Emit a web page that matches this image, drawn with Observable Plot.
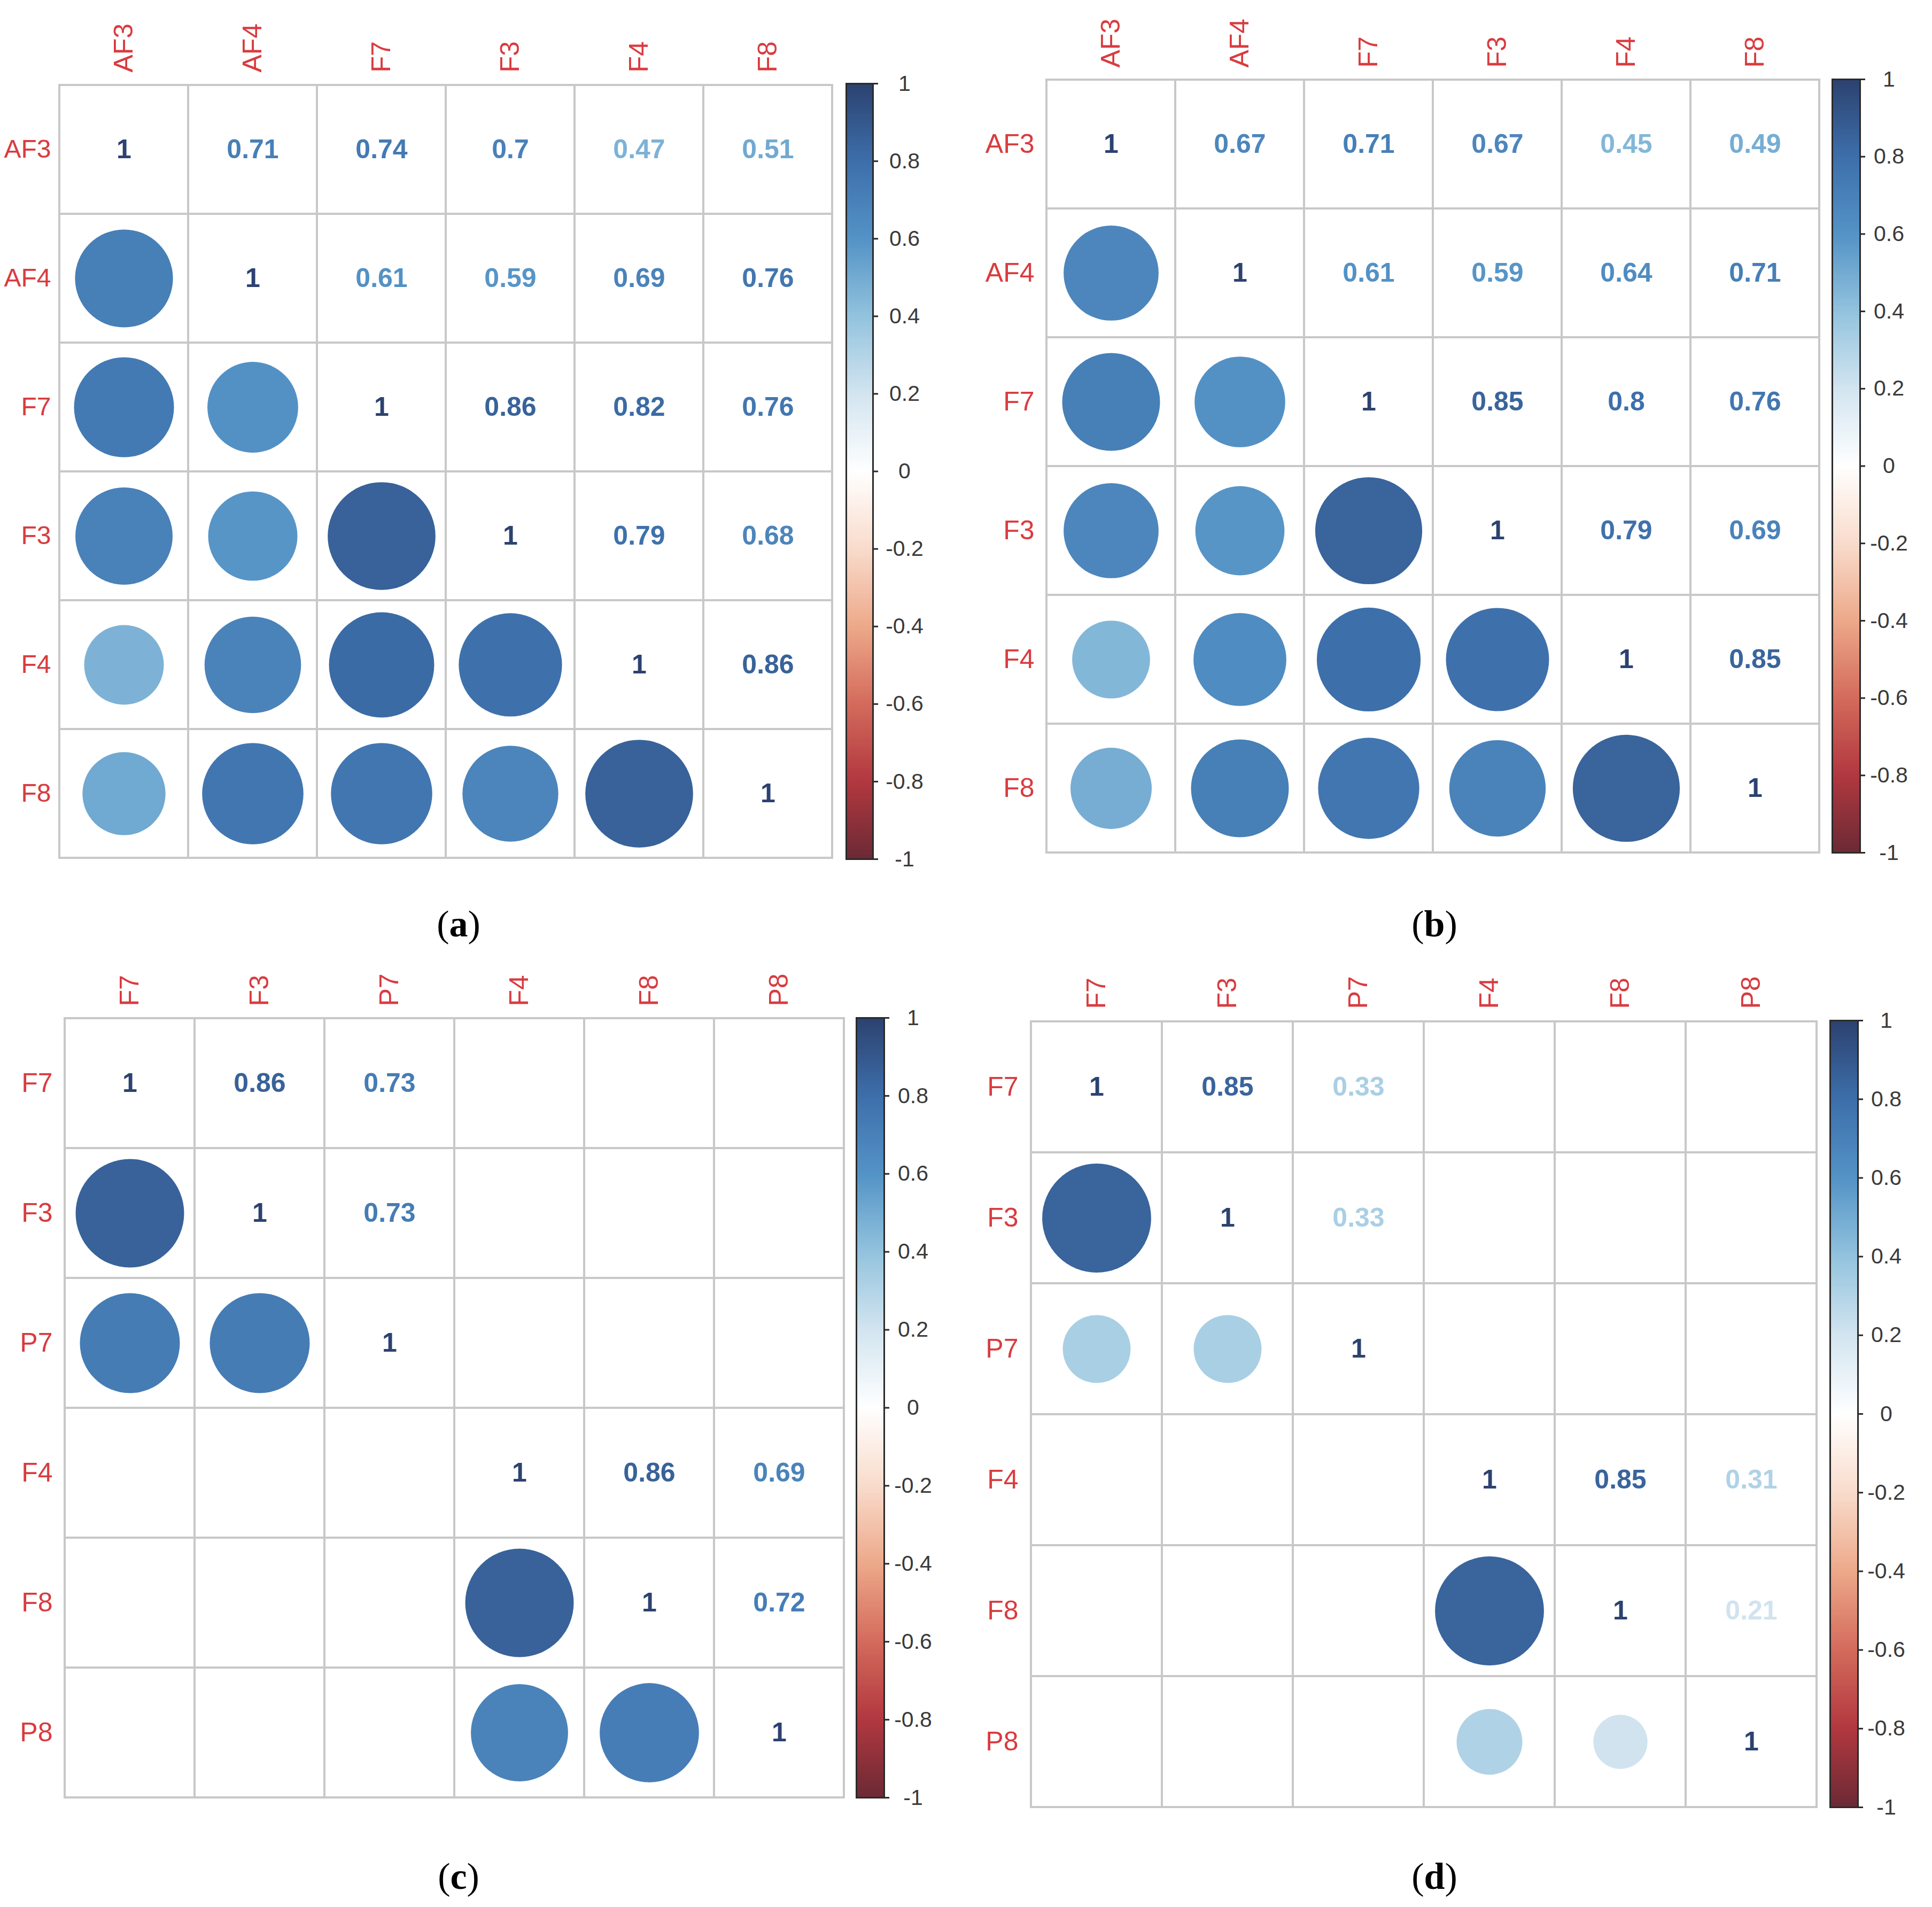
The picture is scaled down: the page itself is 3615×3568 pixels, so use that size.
<!DOCTYPE html>
<html>
<head>
<meta charset="utf-8">
<script src="https://cdn.jsdelivr.net/npm/d3@7"></script>
<script src="https://cdn.jsdelivr.net/npm/@observablehq/plot@0.6"></script>
<style>
  html, body { margin: 0; padding: 0; background: #ffffff; }
  #page { position: relative; width: 3615px; height: 3568px; overflow: hidden; background: #ffffff; }
  .abs { position: absolute; }
  .cap { position: absolute; width: 400px; text-align: center; font-family: "Liberation Serif", "Times New Roman", serif; font-size: 70px; line-height: 80px; color: #000; }
  .cap b { font-weight: bold; }
</style>
</head>
<body>
<div id="page"></div>
<script>
// ---------------- data ----------------
const varsA = ["AF3", "AF4", "F7", "F3", "F4", "F8"];
const corrA = [
  [1,    0.71, 0.74, 0.70, 0.47, 0.51],
  [0.71, 1,    0.61, 0.59, 0.69, 0.76],
  [0.74, 0.61, 1,    0.86, 0.82, 0.76],
  [0.70, 0.59, 0.86, 1,    0.79, 0.68],
  [0.47, 0.69, 0.82, 0.79, 1,    0.86],
  [0.51, 0.76, 0.76, 0.68, 0.86, 1]
];

const varsB = ["AF3", "AF4", "F7", "F3", "F4", "F8"];
const corrB = [
  [1,    0.67, 0.71, 0.67, 0.45, 0.49],
  [0.67, 1,    0.61, 0.59, 0.64, 0.71],
  [0.71, 0.61, 1,    0.85, 0.80, 0.76],
  [0.67, 0.59, 0.85, 1,    0.79, 0.69],
  [0.45, 0.64, 0.80, 0.79, 1,    0.85],
  [0.49, 0.71, 0.76, 0.69, 0.85, 1]
];

const varsC = ["F7", "F3", "P7", "F4", "F8", "P8"];
const corrC = [
  [1,    0.86, 0.73, null, null, null],
  [0.86, 1,    0.73, null, null, null],
  [0.73, 0.73, 1,    null, null, null],
  [null, null, null, 1,    0.86, 0.69],
  [null, null, null, 0.86, 1,    0.72],
  [null, null, null, 0.69, 0.72, 1]
];

const varsD = ["F7", "F3", "P7", "F4", "F8", "P8"];
const corrD = [
  [1,    0.85, 0.33, null, null, null],
  [0.85, 1,    0.33, null, null, null],
  [0.33, 0.33, 1,    null, null, null],
  [null, null, null, 1,    0.85, 0.31],
  [null, null, null, 0.85, 1,    0.21],
  [null, null, null, 0.31, 0.21, 1]
];

const captions = ["a", "b", "c", "d"];
const colorbarTicks = [1, 0.8, 0.6, 0.4, 0.2, 0, -0.2, -0.4, -0.6, -0.8, -1];
// palette stops from -1 to 1 (step 0.2)
const paletteStops = ["#6b2a35", "#b2383f", "#d46b5c", "#eda98a", "#f9dccc", "#ffffff",
                      "#d3e5f0", "#93c3de", "#5493c6", "#3d6fab", "#2c4270"];

// ---------------- layout ----------------
const labelRed = "#d93b3f";
const fontFamily = "'Liberation Sans', Arial, Helvetica, sans-serif";
const panels = [
  {vars: varsA, corr: corrA, gx: 109,  gy: 157,  cell: 241.6, cbx: 1583, cbw: 50, cby0: 156,  cby1: 1607, lab: 1692, capx: 858,  capy: 1729, rowPad: 14},
  {vars: varsB, corr: corrB, gx: 1957, gy: 148,  cell: 241.3, cbx: 3428, cbw: 52, cby0: 148,  cby1: 1595, lab: 3534, capx: 2684, capy: 1729, rowPad: 22},
  {vars: varsC, corr: corrC, gx: 120,  gy: 1904, cell: 243.2, cbx: 1602, cbw: 52, cby0: 1904, cby1: 3363, lab: 1708, capx: 858,  capy: 3511, rowPad: 22},
  {vars: varsD, corr: corrD, gx: 1927, gy: 1909, cell: 245.6, cbx: 3424, cbw: 52, cby0: 1909, cby1: 3381, lab: 3529, capx: 2684, capy: 3511, rowPad: 22}
];

const colorScale = {type: "linear", domain: [-1, 1], interpolate: d3.piecewise(d3.interpolateRgb, paletteStops)};
const svgStyle = {background: "transparent", overflow: "visible", maxWidth: "none", fontFamily: fontFamily};
const page = document.getElementById("page");

panels.forEach((p, k) => {
  const n = p.vars.length;
  const all = [], upper = [], lower = [];
  for (let i = 0; i < n; i++) {
    for (let j = 0; j < n; j++) {
      const d = {row: p.vars[i], col: p.vars[j], v: p.corr[i][j]};
      all.push(d);
      if (d.v == null) continue;
      if (j >= i) upper.push(d); else lower.push(d);
    }
  }
  const mL = 130, mT = 160, mR = 10, mB = 10;
  const size = n * p.cell;
  const grid = Plot.plot({
    width: mL + size + mR,
    height: mT + size + mB,
    marginLeft: mL, marginTop: mT, marginRight: mR, marginBottom: mB,
    style: svgStyle,
    x: {domain: p.vars, padding: 0, axis: null},
    y: {domain: p.vars, padding: 0, axis: null},
    color: colorScale,
    r: {type: "sqrt", domain: [0, 1], range: [0, 0.45 * p.cell]},
    marks: [
      Plot.cell(all, {x: "col", y: "row", fill: "#ffffff", stroke: "#c8c8c8", strokeWidth: 4}),
      Plot.dot(lower, {x: "col", y: "row", r: d => Math.abs(d.v), fill: "v", stroke: null}),
      Plot.text(upper, {x: "col", y: "row", text: d => String(d.v), fill: "v", fontSize: 50, fontWeight: "bold"}),
      Plot.axisX({anchor: "top", tickSize: 0, tickPadding: 22, tickRotate: -90, fontSize: 50, color: labelRed, label: null}),
      Plot.axisY({anchor: "left", tickSize: 0, tickPadding: p.rowPad, fontSize: k === 0 ? 48 : 50, color: labelRed, label: null})
    ]
  });
  grid.classList.add("abs");
  grid.style.left = (p.gx - mL) + "px";
  grid.style.top = (p.gy - mT) + "px";
  page.appendChild(grid);

  // colour bar
  const cL = 10, cR = 130, cT = 30, cB = 30;
  const barH = p.cby1 - p.cby0;
  const bar = Plot.plot({
    width: cL + p.cbw + cR,
    height: cT + barH + cB,
    marginLeft: cL, marginRight: cR, marginTop: cT, marginBottom: cB,
    style: svgStyle,
    x: {domain: [0, 1], axis: null},
    y: {domain: [-1, 1], axis: null},
    color: colorScale,
    marks: [
      Plot.raster({x1: 0, x2: 1, y1: -1, y2: 1, width: 2, height: 400, fill: (x, y) => y, imageRendering: "auto"}),
      Plot.frame({stroke: "#2a2a2a", strokeWidth: 3}),
      Plot.ruleY(colorbarTicks, {y: d => d, x1: 1, x2: 1 + 10 / p.cbw, stroke: "#2a2a2a", strokeWidth: 3}),
      Plot.text(colorbarTicks, {y: d => d, frameAnchor: "right", dx: p.lab - (p.cbx + p.cbw), text: d => String(d), textAnchor: "middle", fontSize: 41, fill: "#3a3a3a"})
    ]
  });
  bar.classList.add("abs");
  bar.style.left = (p.cbx - cL) + "px";
  bar.style.top = (p.cby0 - cT) + "px";
  page.appendChild(bar);

  const cap = document.createElement("div");
  cap.className = "cap";
  cap.style.left = (p.capx - 200) + "px";
  cap.style.top = (p.capy - 40) + "px";
  cap.innerHTML = "(<b>" + captions[k] + "</b>)";
  page.appendChild(cap);
});
</script>
</body>
</html>
